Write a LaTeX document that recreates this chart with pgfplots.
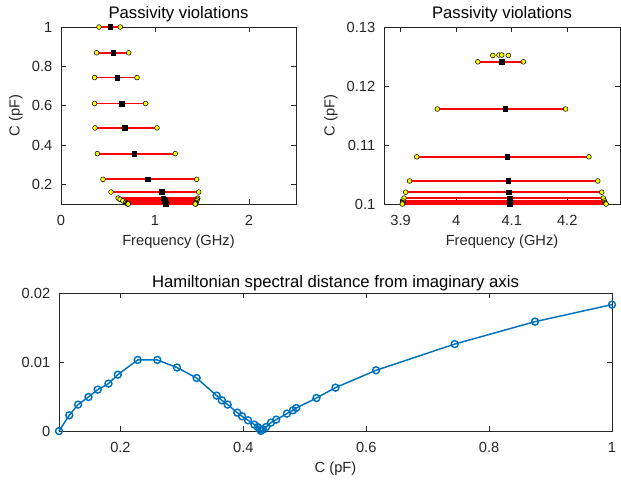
\documentclass[border=0pt]{standalone}
\usepackage{fontspec}
\setmainfont{Liberation Sans}
\usepackage{pgfplots}
\pgfplotsset{compat=1.18}
\usepackage{pgfplotstable}
\definecolor{mlblue}{HTML}{0072BD}
\definecolor{axgray}{HTML}{262626}
\definecolor{mlyellow}{HTML}{FFFF00}
\definecolor{segred}{HTML}{FF0000}

% violation bands: C (pF), lower edge, centre, upper edge (GHz)
\pgfplotstableread{
C lo mid hi
1.000 0.404 0.525 0.631
0.869 0.379 0.557 0.720
0.743 0.358 0.599 0.809
0.611 0.358 0.645 0.901
0.487 0.362 0.681 1.021
0.356 0.387 0.777 1.216
0.2255 0.447 0.922 1.443
0.161 0.532 1.071 1.465
0.130 0.608 1.090 1.455
0.124 0.629 1.097 1.450
0.116 0.658 1.104 1.444
0.108 0.687 1.111 1.437
0.104 0.700 1.115 1.433
0.102 0.707 1.117 1.431
0.101 0.711 1.118 1.430
0.1005 0.713 1.119 1.429
0.100 0.715 1.120 1.428
}\bandsA

\pgfplotstableread{
C lo mid hi
0.1241 4.039 4.082 4.121
0.1161 3.966 4.088 4.197
0.1080 3.929 4.092 4.239
0.1039 3.916 4.094 4.255
0.1020 3.909 4.095 4.262
0.1010 3.906 4.096 4.265
0.1005 3.905 4.096 4.267
0.10025 3.904 4.096 4.268
0.1001 3.9035 4.096 4.269
0.1000 3.903 4.096 4.270
}\bandsB

\pgfplotsset{
  mlaxis/.style={
    scale only axis, clip=false,
    axis line style={axgray, line width=0.5pt},
    tick style={axgray, line width=0.5pt},
    major tick length=4pt,
    tick align=inside, xtick pos=both, ytick pos=both,
    tick label style={font=\fontsize{11}{13}\selectfont, text=axgray},
    x tick label style={yshift=-5pt},
    y tick label style={xshift=-3pt},
    label style={font=\fontsize{11}{13}\selectfont, text=axgray},
    title style={font=\fontsize{12.5}{15}\selectfont, yshift=-5.5pt},
    /pgf/number format/assume math mode=true,
    scaled ticks=false,
    unbounded coords=jump,
  },
  seg/.style={draw=segred, line width=1.4pt, mark=none},
  centre/.style={only marks, mark=square*, mark size=1.7pt, black},
  edge/.style={only marks, mark=*, mark size=1.8pt,
    mark options={fill=mlyellow, draw=black, line width=0.4pt}},
}

\begin{document}
\begin{tikzpicture}
\useasboundingbox (0,0) rectangle (465.75pt,-365.25pt);

\begin{axis}[mlaxis,
  at={(45.75pt,-153pt)}, anchor=south west,
  width=176.25pt, height=132.75pt,
  xmin=0, xmax=2.5, ymin=0.1, ymax=1,
  xtick={0,1,2}, xticklabels={0,1,2},
  ytick={0.2,0.4,0.6,0.8,1}, yticklabels={0.2,0.4,0.6,0.8,1},
  title={Passivity violations},
  xlabel={Frequency (GHz)}, ylabel={C (pF)},
]
\addplot[seg] coordinates {
(0.404,1.000) (0.631,1.000) (nan,nan)
(0.379,0.869) (0.720,0.869) (nan,nan)
(0.358,0.743) (0.809,0.743) (nan,nan)
(0.358,0.611) (0.901,0.611) (nan,nan)
(0.362,0.487) (1.021,0.487) (nan,nan)
(0.387,0.356) (1.216,0.356) (nan,nan)
(0.447,0.2255) (1.443,0.2255) (nan,nan)
(0.532,0.161) (1.465,0.161) (nan,nan)
(0.608,0.130) (1.455,0.130) (nan,nan)
(0.629,0.124) (1.450,0.124) (nan,nan)
(0.658,0.116) (1.444,0.116) (nan,nan)
(0.687,0.108) (1.437,0.108) (nan,nan)
(0.700,0.104) (1.433,0.104) (nan,nan)
(0.707,0.102) (1.431,0.102) (nan,nan)
(0.711,0.101) (1.430,0.101) (nan,nan)
(0.713,0.1005) (1.429,0.1005) (nan,nan)
(0.715,0.100) (1.428,0.100)
};
\addplot[centre] table[x=mid, y=C] {\bandsA};
\addplot[edge] table[x=lo, y=C] {\bandsA};
\addplot[edge] table[x=hi, y=C] {\bandsA};
\end{axis}

\begin{axis}[mlaxis,
  at={(288pt,-153pt)}, anchor=south west,
  width=177pt, height=132.75pt,
  xmin=3.87, xmax=4.295, ymin=0.1, ymax=0.13,
  xtick={3.9,4,4.1,4.2}, xticklabels={3.9,4,4.1,4.2},
  ytick={0.1,0.11,0.12,0.13}, yticklabels={0.1,0.11,0.12,0.13},
  title={Passivity violations},
  xlabel={Frequency (GHz)}, ylabel={C (pF)},
]
\addplot[seg] coordinates {
(4.039,0.1241) (4.121,0.1241) (nan,nan)
(3.966,0.1161) (4.197,0.1161) (nan,nan)
(3.929,0.1080) (4.239,0.1080) (nan,nan)
(3.916,0.1039) (4.255,0.1039) (nan,nan)
(3.909,0.1020) (4.262,0.1020) (nan,nan)
(3.906,0.1010) (4.265,0.1010) (nan,nan)
(3.905,0.1005) (4.267,0.1005) (nan,nan)
(3.904,0.10025) (4.268,0.10025) (nan,nan)
(3.9035,0.1001) (4.269,0.1001) (nan,nan)
(3.903,0.1000) (4.270,0.1000)
};
\addplot[centre] table[x=mid, y=C] {\bandsB};
\addplot[edge] table[x=lo, y=C] {\bandsB};
\addplot[edge] table[x=hi, y=C] {\bandsB};
\addplot[edge] coordinates {(4.066,0.12518) (4.077,0.12525) (4.082,0.12525) (4.094,0.12518)};
\end{axis}

\begin{axis}[mlaxis,
  at={(44.25pt,-323.25pt)}, anchor=south west,
  width=414.75pt, height=103.5pt,
  xmin=0.1, xmax=1, ymin=0, ymax=0.02,
  xtick={0.2,0.4,0.6,0.8,1}, xticklabels={0.2,0.4,0.6,0.8,1},
  ytick={0,0.01,0.02}, yticklabels={0,0.01,0.02},
  title={Hamiltonian spectral distance from imaginary axis},
  title style={yshift=-2.5pt},
  xlabel={C (pF)},
]
\addplot[mlblue, line width=1.1pt, mark=o, mark size=2.6pt] coordinates {
(0.1,0) (0.1167,0.00228) (0.131,0.00383) (0.148,0.00493) (0.163,0.0060)
(0.1805,0.00687) (0.1957,0.00817) (0.228,0.0103) (0.260,0.0103)
(0.292,0.0092) (0.324,0.00768) (0.3565,0.00513) (0.365,0.00445)
(0.3745,0.00383) (0.39,0.00267) (0.398,0.00213) (0.4077,0.00155)
(0.418,0.00093) (0.4235,0.00058) (0.427,0.00025) (0.4285,0.00002)
(0.432,0.0002) (0.437,0.00058) (0.445,0.00122) (0.4535,0.00165)
(0.471,0.00252) (0.4807,0.0030) (0.486,0.00333) (0.519,0.00478)
(0.550,0.00629) (0.616,0.0088) (0.744,0.0126) (0.8747,0.01585)
(1.0,0.01832)
};
\end{axis}
\end{tikzpicture}
\end{document}
